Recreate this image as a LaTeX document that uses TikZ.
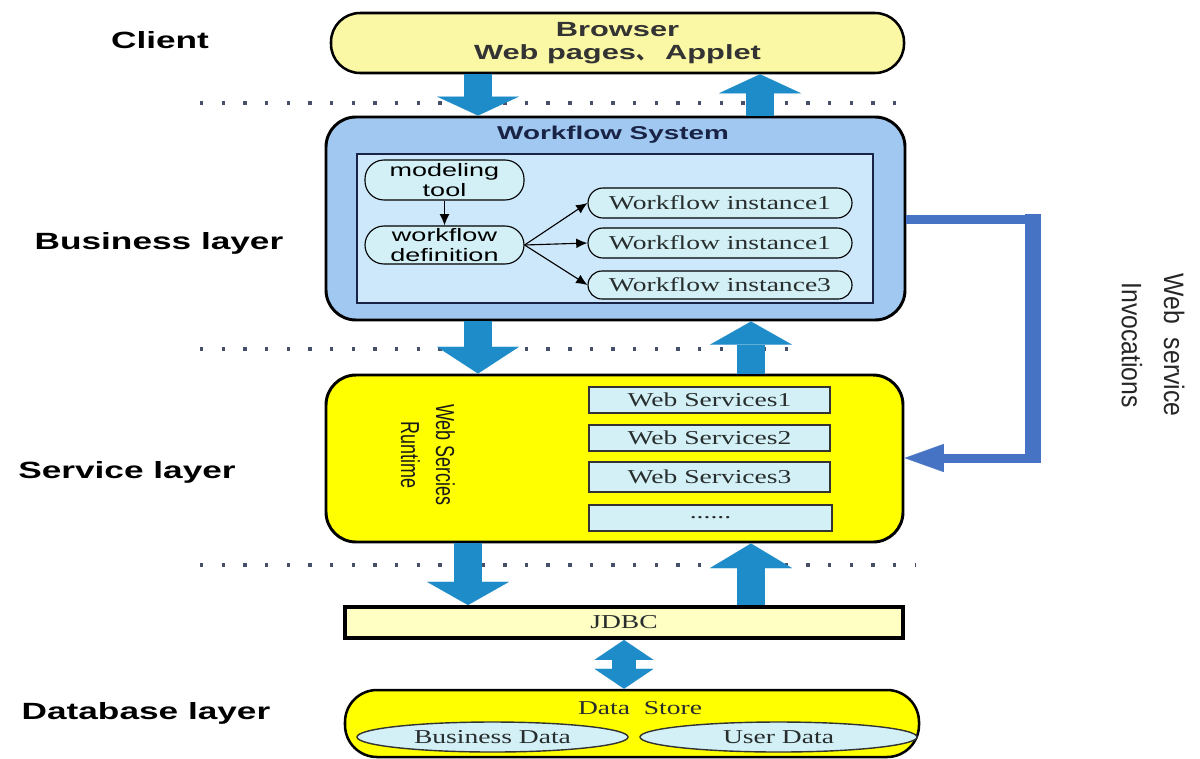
\documentclass[tikz,border=0pt]{standalone}
\usepackage{fontspec}
\usetikzlibrary{arrows.meta,shapes.geometric,calc}
\setmainfont{Liberation Serif}
\newfontfamily\lblfont[FakeStretch=1.5]{Liberation Sans}
\newfontfamily\rmwide[FakeStretch=1.4]{Liberation Serif}
\newfontfamily\sfnarrow[FakeStretch=0.69]{Liberation Sans}
\newfontfamily\sfinv[FakeStretch=0.88]{Liberation Sans}
\newfontfamily\cjkfont{Noto Sans CJK SC}
\newdimen\pxu \pxu=0.025cm
\definecolor{browserfill}{RGB}{250,247,165}
\definecolor{wffill}{RGB}{160,200,240}
\definecolor{wfinner}{RGB}{205,232,250}
\definecolor{cyanfill}{RGB}{210,240,245}
\definecolor{svcfill}{RGB}{255,255,0}
\definecolor{jdbcfill}{RGB}{255,255,195}
\definecolor{arrowblue}{RGB}{30,140,200}
\definecolor{invblue}{RGB}{70,115,195}
\definecolor{dotgrey}{RGB}{70,80,105}
\definecolor{navytext}{RGB}{25,35,70}
\definecolor{darktext}{RGB}{40,45,45}
\begin{document}
\begin{tikzpicture}[x=0.025cm,y=-0.025cm,
  lbl/.style={font={\lblfont\bfseries\fontsize{16.7pt}{20pt}\selectfont}, text=black, inner sep=0pt},
  dotline/.style={dotgrey, line width=2.2pt, dash pattern=on 2.4pt off 13pt},
  bigbox/.style={draw=black, align=center, inner sep=0pt},
  sized/.style 2 args={minimum width=#1*\pxu, minimum height=#2*\pxu},
  sanssmall/.style={font={\lblfont\fontsize{12.8pt}{14.2pt}\selectfont}, text=black},
  serifw/.style={font={\rmwide\fontsize{14pt}{16pt}\selectfont}, text=darktext},
  bubble/.style={draw=black, line width=0.8pt, fill=cyanfill, rounded corners=19*\pxu, inner sep=0pt, align=center},
  wsbox/.style={draw=black!80, line width=1.2pt, fill=cyanfill, inner sep=0pt, serifw},
  smallarrow/.style={draw=black, line width=0.8pt, -{Latex[length=8pt,width=7pt]}},
  blockarrow/.style={arrowblue, line width=20.6pt, -{Triangle[width=58.3pt,length=#1, line width=0.1pt]}},
  blockarrow/.default=15.6pt,
  dblarrow/.style={arrowblue, line width=17pt, {Triangle[width=42pt,length=14.2pt,line width=0.1pt]}-{Triangle[width=42pt,length=14.2pt,line width=0.1pt]}},
  invline/.style={invblue, line width=6.4pt, -{Triangle[width=20pt,length=28pt,line width=0.1pt]}}
]
\useasboundingbox[fill=white] (0,0) rectangle (1200,758);

% dotted separators
\draw[dotline] (200,103) -- (905,103);
\draw[dotline] (200,349) -- (805,349);
\draw[dotline] (200,565) -- (915,565);

% layer labels
\node[lbl] (lclient) at (160,40) {Client};
\node[lbl] (lbusiness) at (159,243) {Business layer};
\node[lbl] (lservice) at (127,472) {Service layer};
\node[lbl] (ldatabase) at (146,713) {Database layer};

% browser
\node[bigbox, sized={573}{60}, fill=browserfill, line width=1.8pt, rounded corners=29*\pxu,
  font={\lblfont\bfseries\fontsize{14.6pt}{16.4pt}\selectfont}, text=black!80] (browser) at (617.5,43)
  {Browser\\Web pages{\cjkfont 、} Applet};

% workflow system
\node[bigbox, sized={579}{203}, fill=wffill, line width=2.1pt, rounded corners=30*\pxu] (wf) at (615.5,218.5) {};
\node[font={\lblfont\bfseries\fontsize{13.2pt}{15pt}\selectfont}, text=navytext, inner sep=0pt] (wftitle) at (613,135) {Workflow System};
\node[draw=navytext, line width=1pt, fill=wfinner, sized={516}{149}, inner sep=0pt] (wfin) at (615,228.5) {};
\node[bubble, sized={159}{40}, sanssmall] (mt) at (444.5,180) {modeling\\tool};
\node[bubble, sized={159}{38}, sanssmall] (wd) at (444.5,245) {workflow\\definition};
\node[bubble, sized={264}{30}, rounded corners=15*\pxu, serifw] (inst1) at (720,203) {Workflow instance1};
\node[bubble, sized={264}{30}, rounded corners=15*\pxu, serifw] (inst2) at (720,243) {Workflow instance1};
\node[bubble, sized={264}{28}, rounded corners=14*\pxu, serifw] (inst3) at (720,285) {Workflow instance3};
\draw[smallarrow] (mt) -- (wd);
\draw[smallarrow] (wd.east) -- (inst1.west);
\draw[smallarrow] (wd.east) -- (inst2.west);
\draw[smallarrow] (wd.east) -- (inst3.west);

% service layer
\node[bigbox, sized={577}{167}, fill=svcfill, line width=2.1pt, rounded corners=30*\pxu] (svc) at (614.5,458.5) {};
\node[rotate=-90, align=center, inner sep=0pt, text=black!90,
  font={\sfnarrow\fontsize{18.5pt}{24.9pt}\selectfont}] (rt) at (428,455) {Web Sercies\\Runtime};
\node[wsbox, sized={241}{26}] (ws1) at (709.5,400) {Web Services1};
\node[wsbox, sized={241}{26}] (ws2) at (709.5,438) {Web Services2};
\node[wsbox, sized={241}{30}] (ws3) at (709.5,477) {Web Services3};
\node[wsbox, sized={243}{26}] (ws4) at (710.5,518) {......};

% JDBC
\node[bigbox, sized={558}{31}, fill=jdbcfill, line width=2.8pt, serifw] (jdbc) at (624,622.5) {JDBC};

% data store
\node[bigbox, sized={574}{67}, fill=svcfill, line width=1.8pt, rounded corners=32*\pxu] (ds) at (632,723.5) {};
\node[serifw, inner sep=0pt] (dstitle) at (640,708) {Data\ \ Store};
\node[ellipse, draw=black!80, line width=1pt, fill=cyanfill, sized={271}{30}, inner sep=0pt, serifw] (bd) at (492.5,737) {Business Data};
\node[ellipse, draw=black!80, line width=1pt, fill=cyanfill, sized={277}{30}, inner sep=0pt, serifw] (ud) at (778.5,737) {User Data};

% block arrows
\coordinate (xa) at (478,0);
\coordinate (xb) at (760,0);
\coordinate (xc) at (478,0);
\coordinate (xd) at (751,0);
\coordinate (xe) at (468,0);
\coordinate (xf) at (751,0);
\coordinate (xg) at (624,0);
\draw[blockarrow=13.5pt] (browser.south -| xa) -- (wf.north -| xa);
\draw[blockarrow=13.5pt] (wf.north -| xb) -- (browser.south -| xb);
\draw[blockarrow=19pt] (wf.south -| xc) -- (svc.north -| xc);
\draw[blockarrow=16.5pt] (svc.north -| xd) -- (wf.south -| xd);
\draw[blockarrow=16.5pt] (svc.south -| xe) -- (jdbc.north -| xe);
\draw[blockarrow=17.5pt] (jdbc.north -| xf) -- (svc.south -| xf);
\draw[dblarrow] (jdbc.south -| xg) -- (ds.north -| xg);

% web service invocations
\coordinate (c1) at (1033,219);
\coordinate (c2) at (1033,458);
\coordinate (c1t) at (1033,214);
\coordinate (c2b) at (1033,463);
\draw[invline] (wf.east |- c1) -- (c1) -- (c2) -- (svc.east |- c2);
\draw[invblue, line width=11pt] (c1t) -- (c2b);
\node[rotate=-90, align=center, inner sep=0pt, text=black!85,
  font={\sfinv\fontsize{20pt}{30pt}\selectfont}] (inv) at (1153,345) {Web\ \ service\\Invocations};
\end{tikzpicture}
\end{document}
